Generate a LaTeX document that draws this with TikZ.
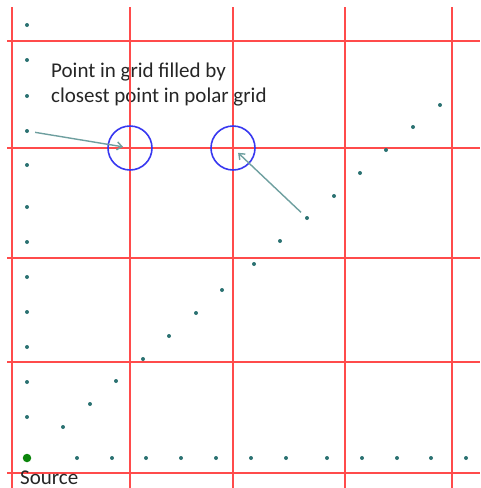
\documentclass[tikz,border=0pt]{standalone}
\usepackage{fontspec}
\setmainfont{Carlito}
\usepackage{xcolor}
\usetikzlibrary{arrows.meta, positioning}
\definecolor{gridred}{HTML}{FF4B4B}
\definecolor{ringblue}{HTML}{3838F0}
\definecolor{dotteal}{HTML}{2B7272}
\definecolor{arrowteal}{HTML}{6E9F9F}
\definecolor{srcgreen}{HTML}{0B850B}
\definecolor{textgray}{HTML}{262626}
\tikzset{
  % griglia cartesiana
  gridline/.style={gridred,line width=1.8},
  % punti della griglia polare
  dot/.style={circle,fill=dotteal,inner sep=0,minimum size=4},
  dot source/.style={circle,fill=srcgreen,inner sep=0,minimum size=8.5},
  ring/.style={circle,draw=ringblue,line width=1.6,minimum size=44,inner sep=0},
  pointer/.style={-{Straight Barb[length=5,width=8]},arrowteal,line width=1.4,
    shorten <=6,shorten >=7},
  label/.style={font=\fontsize{21}{25}\selectfont,text=textgray,inner sep=0}
}

\begin{document}
\begin{tikzpicture}[x=1pt,y=-1pt]
    \useasboundingbox (0,0) rectangle (480,488);
    \node[label,anchor=base west,align=left] (note) at (51,102)
      {Point in grid filled by\\closest point in polar grid};
    \foreach \x in {12,130,233,345,452}
      \draw[gridline] (\x,7) -- (\x,488);
    \foreach \y in {41,148,258,362,473}
      \draw[gridline] (7,\y) -- (480,\y);
    \node[ring] (c1) at (130,148) {};
    \node[ring] (c2) at (233,148) {};
    \node[dot source] (src) at (27,458) {};
    \node[label,anchor=base west] (src label) at (20,484) {Source};
    % raggio verticale
    \foreach \y [count=\i] in {417,382,347,312,277,242,207,165,131,96,60,25}
      \node[dot] (v\i) at (27,\y) {};
    % raggio orizzontale
    \foreach \x [count=\i] in {77,112,146,181,216,251,286,327,362,397,431,466}
      \node[dot] (h\i) at (\x,458) {};
    % raggio diagonale
    \foreach \x/\y [count=\i] in {63/427,90/404,116/381,143/359,169/336,196/313,
        222/290,254/264,280/241,307/218,334/196,360/173,386/150,413/127,440/105}
      \node[dot] (d\i) at (\x,\y) {};
    \draw[pointer] (v9) -- (c1.center);
    \draw[pointer] (d10) -- (c2.center);
  \end{tikzpicture}
\end{document}
